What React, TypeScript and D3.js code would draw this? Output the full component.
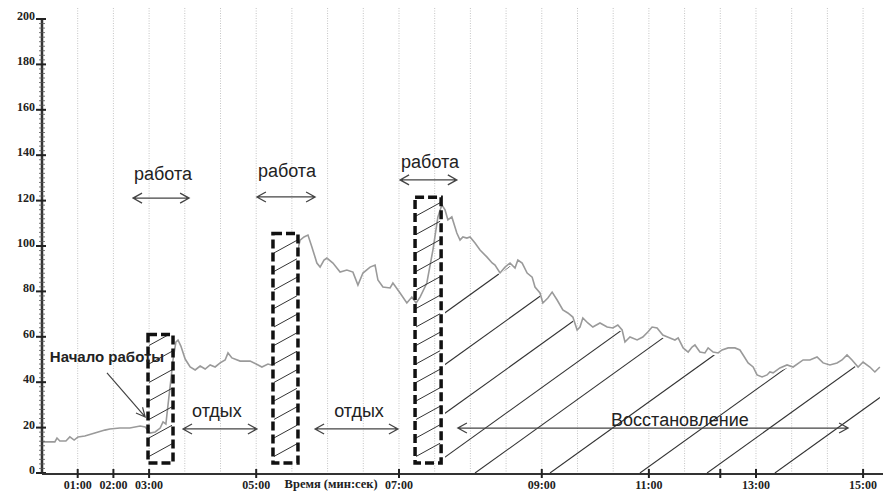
import React from 'react';
import * as d3 from 'd3';

// position on the time axis in grid steps, and pulse (bpm)
const sampleAt = [
  0, 0.36, 0.42, 0.5, 0.67, 0.78, 0.9, 1.01, 1.2, 1.48, 1.76, 1.9, 2.18, 2.46, 2.75, 2.89,
  3.03, 3.17, 3.31, 3.39, 3.47, 3.53, 3.61, 3.67, 3.75, 3.81, 3.89, 4.01, 4.15, 4.29, 4.43,
  4.57, 4.71, 4.85, 4.99, 5.13, 5.21, 5.32, 5.55, 5.83, 6.0, 6.16, 6.33, 6.45, 7.19,
  7.23, 7.34, 7.45, 7.56, 7.7, 7.79, 7.9, 7.98, 8.15, 8.35, 8.54, 8.71, 8.85, 8.99, 9.19,
  9.33, 9.41, 9.55, 9.75, 9.83, 10.03, 10.22, 10.36, 10.48, 10.59, 10.78, 10.95, 11.09,
  11.2, 11.29, 11.37, 11.48, 11.62, 11.71, 11.79, 11.9, 11.99, 12.13, 12.27, 12.46, 12.61,
  12.69, 12.83, 12.97, 13.11, 13.25, 13.33, 13.45, 13.59, 13.73, 13.81, 13.95, 14.03, 14.17,
  14.29, 14.43, 14.59, 14.73, 14.87, 14.99, 15.07, 15.15, 15.29, 15.43, 15.63, 15.83, 15.99,
  16.13, 16.25, 16.33, 16.47, 16.67, 16.83, 16.97, 17.09, 17.23, 17.39, 17.59, 17.73, 17.82,
  17.96, 18.1, 18.21, 18.29, 18.43, 18.57, 18.66, 18.8, 18.94, 19.05, 19.22, 19.41, 19.55,
  19.64, 19.78, 19.92, 20.03, 20.17, 20.31, 20.39, 20.48, 20.67, 20.87, 21.04, 21.32, 21.51,
  21.71, 21.88, 22.07, 22.27, 22.41, 22.55, 22.69, 22.86, 23.0, 23.19, 23.33, 23.47,
];
const pulse = [
  13.7, 13.7, 15.4, 14.1, 14.1, 15.9, 14.5, 15.9, 16.3, 17.6, 18.9, 19.4, 19.8, 19.8, 20.7, 20.3,
  17.6, 18.1, 19.8, 22.5, 21.6, 30.0, 41.0, 49.8, 57.7, 58.6, 55.9, 50.2, 46.7, 45.4, 47.1,
  45.8, 47.6, 46.7, 48.5, 49.8, 52.9, 50.7, 49.3, 49.3, 48.0, 46.7, 48.0, 47.5, 100,
  102.6, 104.0, 104.8, 99.6, 92.5, 90.7, 93.8, 94.7, 92.5, 88.5, 89.4, 88.5, 82.8, 88.1, 90.7,
  91.6, 85.0, 81.9, 81.5, 83.7, 79.3, 74.9, 77.5, 74.9, 77.5, 83.7, 98.2, 112.8,
  118.1, 115.9, 111.5, 112.8, 105.7, 102.6, 104.0, 103.5, 104.0, 101.3, 98.2, 95.2, 92.5,
  91.6, 88.1, 90.7, 92.5, 90.3, 93.8, 92.5, 88.1, 86.3, 81.9, 79.3, 74.9, 77.1,
  79.7, 76.2, 71.8, 70.5, 68.7, 63.0, 64.3, 68.3, 66.1, 64.3, 66.1, 64.3, 63.9,
  65.2, 63.0, 57.7, 59.9, 58.6, 59.9, 62.1, 64.3, 63.9, 60.8, 59.5, 58.6, 59.5,
  55.1, 53.3, 55.5, 56.4, 53.3, 52.9, 55.1, 53.3, 52.9, 54.2, 55.1, 55.1, 54.2,
  52.0, 48.5, 46.7, 43.2, 42.3, 43.2, 44.5, 44.1, 46.3, 47.6, 46.7, 49.8, 49.8,
  51.1, 48.5, 47.6, 48.5, 49.8, 52.0, 49.8, 46.7, 48.9, 46.7, 44.5, 46.7,
];

const pulseTicks = [0, 20, 40, 60, 80, 100, 120, 140, 160, 180, 200];
const timeTickAt = [1, 2, 3, 6, 10, 14, 17, 19, 20, 23];
const timeTickLabel = ['01:00', '02:00', '03:00', '05:00', '07:00', '09:00', '11:00', '', '13:00', '15:00'];

// work intervals (dashed boxes)
const boxFrom = [2.97, 6.47, 10.45];
const boxTo = [3.67, 7.17, 11.18];
const boxTop = [61, 105.5, 121.5];
const boxBottom = 4.4;

// recovery hatch: where each stroke meets the time axis, and its rise (bpm per grid step)
const recoveryHatchAt = [5.04, 7.06, 8.96, 10.67, 12.13, 14.23, 16.75, 18.63, 20.53];
const recoveryHatchRise = 11.3;

const W = 883;
const H = 491;
const serif = '"Liberation Serif", "Times New Roman", serif';
const sans = '"Liberation Sans", Arial, sans-serif';

const x = d3.scaleLinear().domain([0, 23.6]).range([42, 884.5]);
const y = d3.scaleLinear().domain([0, 200]).range([473, 19]);

function DoubleArrow({ x1, x2, yv }: { x1: number; x2: number; yv: number }) {
  const a = x(x1), b = x(x2), c = y(yv);
  return (
    <path
      d={`M${a},${c}H${b}M${a + 9},${c - 5}L${a},${c}L${a + 9},${c + 5}M${b - 9},${c - 5}L${b},${c}L${b - 9},${c + 5}`}
      fill="none" stroke="#444" strokeWidth={1.3}
    />
  );
}

function Label({ at, v, text, size = 18, weight = 400, anchor = 'middle' }: any) {
  return (
    <text x={x(at)} y={y(v)} fontFamily={sans} fontSize={size} fontWeight={weight}
      fill="#222" textAnchor={anchor}>{text}</text>
  );
}

export default function App() {
  const line = d3.line<number>().x((_, i) => x(sampleAt[i])).y(d => y(d));

  const recIdx = sampleAt.map((s, i) => i).filter(i => sampleAt[i] >= 11.28);
  const recArea = d3.area<number>()
    .x(i => x(sampleAt[i]))
    .y0(y(0))
    .y1(i => y(pulse[i]) + 3)(recIdx);

  const pointer = { x1: x(1.82), y1: y(44.1), x2: x(2.89), y2: y(24.7) };
  const ang = Math.atan2(pointer.y2 - pointer.y1, pointer.x2 - pointer.x1);
  const head = (s: number) =>
    `${pointer.x2 - 10 * Math.cos(ang + s)},${pointer.y2 - 10 * Math.sin(ang + s)}`;

  return (
    <svg width={W} height={H} style={{ position: 'absolute', left: 0, top: 0, background: '#fff' }}>
      <defs>
        <clipPath id="rec-clip"><path d={recArea || ''} /></clipPath>
        {boxFrom.map((b, i) => (
          <clipPath id={`box-clip-${i}`} key={i}>
            <rect x={x(b) + 1} y={y(boxTop[i]) + 1} width={x(boxTo[i]) - x(b) - 2}
              height={y(boxBottom) - y(boxTop[i]) - 2} />
          </clipPath>
        ))}
      </defs>

      {/* vertical dotted grid */}
      {d3.range(1, 24).map(g => (
        <line key={g} x1={x(g)} x2={x(g)} y1={8} y2={y(0)} stroke="#c4c4c4"
          strokeWidth={1} strokeDasharray="1,1.5" />
      ))}

      {/* recovery hatch under the curve */}
      <g clipPath="url(#rec-clip)" stroke="#333" strokeWidth={1.1}>
        {recoveryHatchAt.map((a, i) => (
          <line key={i} x1={x(a)} y1={y(0)} x2={x(a + 30)} y2={y(recoveryHatchRise * 30)} />
        ))}
      </g>

      <path d={line(pulse) || ''} fill="none" stroke="#9a9a9a" strokeWidth={1.6} />

      {/* work boxes */}
      {boxFrom.map((b, i) => {
        const x0 = x(b), x1 = x(boxTo[i]), y0 = y(boxTop[i]), y1 = y(boxBottom);
        const n = Math.ceil((y1 - y0) / 18.5) + 2;
        return (
          <g key={i}>
            {i === 1 && <rect x={x0} y={y0} width={x1 - x0} height={y1 - y0} fill="#fff" />}
            <g clipPath={`url(#box-clip-${i})`} stroke="#333" strokeWidth={1}>
              {d3.range(n).map(k => {
                const yl = y1 - 6 - k * 18.5;
                return <line key={k} x1={x0} y1={yl} x2={x1} y2={yl - 0.55 * (x1 - x0)} />;
              })}
            </g>
            <rect x={x0} y={y0} width={x1 - x0} height={y1 - y0} fill="none" stroke="#111"
              strokeWidth={3.5} strokeDasharray="9,4" />
          </g>
        );
      })}

      {/* y axis */}
      <line x1={x(0)} x2={x(0)} y1={y(200)} y2={y(0)} stroke="#333" strokeWidth={2.5} />
      {d3.range(0, 201, 2).map(v => (
        <line key={v} x1={x(0) - 3} x2={x(0) + 3} y1={y(v)} y2={y(v)} stroke="#555" strokeWidth={0.8} />
      ))}
      {pulseTicks.map(v => (
        <g key={v}>
          <line x1={x(0) - 6} x2={x(0) + 4} y1={y(v)} y2={y(v)} stroke="#222" strokeWidth={2} />
          <text x={35} y={y(v) + 1} textAnchor="end" fontFamily={serif} fontWeight={700}
            fontSize={12} fill="#222">{v}</text>
        </g>
      ))}

      {/* x axis */}
      <line x1={x(0)} x2={W} y1={y(0) + 1} y2={y(0) + 1} stroke="#333" strokeWidth={2} />
      {timeTickAt.map((t, i) => (
        <g key={t}>
          <line x1={x(t)} x2={x(t)} y1={y(0) - 4} y2={y(0) + 5} stroke="#222" strokeWidth={2} />
          <text x={x(t)} y={489} textAnchor="middle" fontFamily={serif} fontWeight={700}
            fontSize={12} fill="#222">{timeTickLabel[i]}</text>
        </g>
      ))}
      <text x={x(8.1)} y={488} textAnchor="middle" fontFamily={serif} fontWeight={700}
        fontSize={12.5} fill="#222">Время (мин:сек)</text>

      {/* annotations */}
      <Label at={3.39} v={129.1} text="работа" />
      <DoubleArrow x1={2.55} x2={4.12} yv={121.1} />
      <Label at={6.86} v={130.4} text="работа" />
      <DoubleArrow x1={6.02} x2={7.65} yv={121.6} />
      <Label at={10.87} v={134.4} text="работа" />
      <DoubleArrow x1={10.03} x2={11.62} yv={129.1} />

      <Label at={4.9} v={24.7} text="отдых" />
      <DoubleArrow x1={3.95} x2={6.02} yv={19.4} />
      <Label at={8.88} v={24.7} text="отдых" />
      <DoubleArrow x1={7.65} x2={9.97} yv={19.4} />
      <Label at={17.87} v={20.7} text="Восстановление" />
      <DoubleArrow x1={11.65} x2={22.58} yv={19.8} />

      <Label at={0.22} v={48.9} text="Начало работы" size={15} weight={700} anchor="start" />
      <path d={`M${pointer.x1},${pointer.y1}L${pointer.x2},${pointer.y2}M${head(0.45)}L${pointer.x2},${pointer.y2}L${head(-0.45)}`}
        fill="none" stroke="#444" strokeWidth={1.2} />
    </svg>
  );
}
